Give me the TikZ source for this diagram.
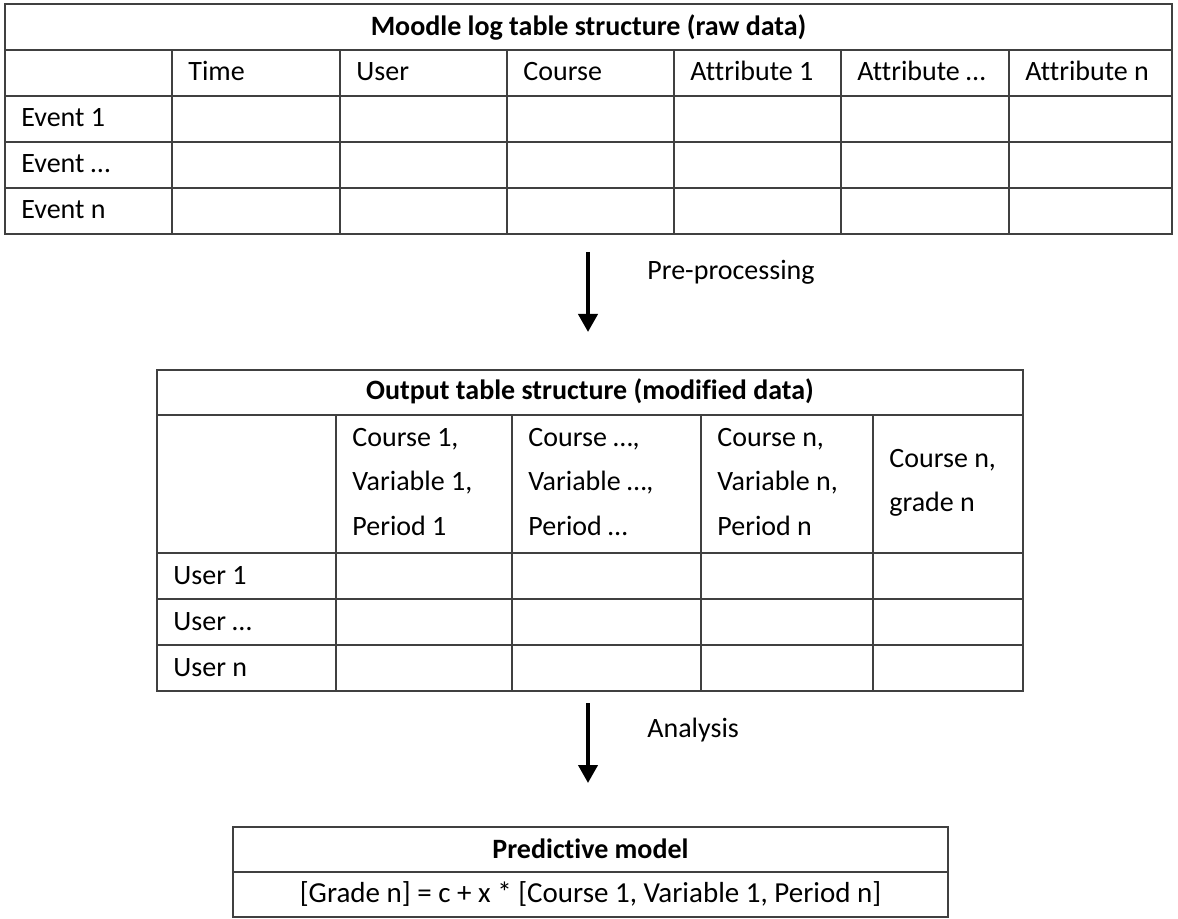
\documentclass[tikz,border=0pt]{standalone}
\usepackage{fontspec}
\setmainfont[Ligatures=NoCommon]{Carlito}
\usetikzlibrary{arrows.meta,positioning}

\begin{document}
\begin{tikzpicture}[x=0.5pt,y=-0.5pt,
  grid/.style={black!75,line width=0.7pt},
  cell/.style={anchor=base west,inner sep=0pt,font=\fontsize{14}{22}\selectfont},
  head/.style={anchor=base,inner sep=0pt,font=\fontsize{14}{16}\selectfont\bfseries},
  flow/.style={line width=2pt,-{Triangle[width=9.5pt,length=9pt]}},
  flowlabel/.style={anchor=base west,inner sep=0pt,font=\fontsize{14}{16}\selectfont}]
\useasboundingbox (0,0) rectangle (1178,919);
% ==========================================
% raw data table
\draw[grid] (5,4) rectangle (1172,234);
\foreach \y in {50,96,142,188} \draw[grid] (5,\y) -- (1172,\y);
\foreach \x in {172,340,507,674,841,1009} \draw[grid] (\x,50) -- (\x,234);
\node[head] (rawtitle) at (588.5,36) {Moodle log table structure (raw data)};
\foreach \txt/\x [count=\i] in {Time/188,User/356,Course/523,Attribute 1/690,Attribute …/857,Attribute n/1025}
  \node[cell] (rawcol\i) at (\x,81) {\txt};
\foreach \txt/\y [count=\i] in {Event 1/127,Event …/173,Event n/219}
  \node[cell] (event\i) at (21,\y) {\txt};
%
\coordinate (prestart) at (588,252);
\coordinate (preend) at (588,332);
\draw[flow] (prestart) -- (preend);%Arrow.
\node[flowlabel] (prelabel) at (647,280) {Pre-processing};
% ==========================================
% modified data table
\draw[grid] (157,370) rectangle (1023,691);
\foreach \y in {415,553,599,645} \draw[grid] (157,\y) -- (1023,\y);
\foreach \x in {336,512,701,873} \draw[grid] (\x,415) -- (\x,691);
\node[head] (outtitle) at (590,400) {Output table structure (modified data)};
% base of a multi-line cell is its last line
\node[cell,align=left] (outcol1) at (352,535) {Course 1,\\Variable 1,\\Period 1};
\node[cell,align=left] (outcol2) at (528,535) {Course …,\\Variable …,\\Period …};
\node[cell,align=left] (outcol3) at (717,535) {Course n,\\Variable n,\\Period n};
\node[cell,align=left] (outcol4) at (889,511) {Course n,\\grade n};
\foreach \txt/\y [count=\i] in {User 1/584,User …/630,User n/676}
  \node[cell] (user\i) at (173,\y) {\txt};
%
\coordinate (anastart) at (588,703);
\coordinate (anaend) at (588,783);
\draw[flow] (anastart) -- (anaend);%Arrow.
\node[flowlabel] (analabel) at (647,737) {Analysis};
% ==========================================
% predictive model
\draw[grid] (233,827) rectangle (948,917);
\draw[grid] (233,872) -- (948,872);
\node[head] (modeltitle) at (590.5,858) {Predictive model};
\node[flowlabel,anchor=base,font=\fontsize{14.5}{16}\selectfont] (formula) at (590.5,902) {[Grade n] = c + x * [Course 1, Variable 1, Period n]};
% =============================================
\end{tikzpicture}
\end{document}
